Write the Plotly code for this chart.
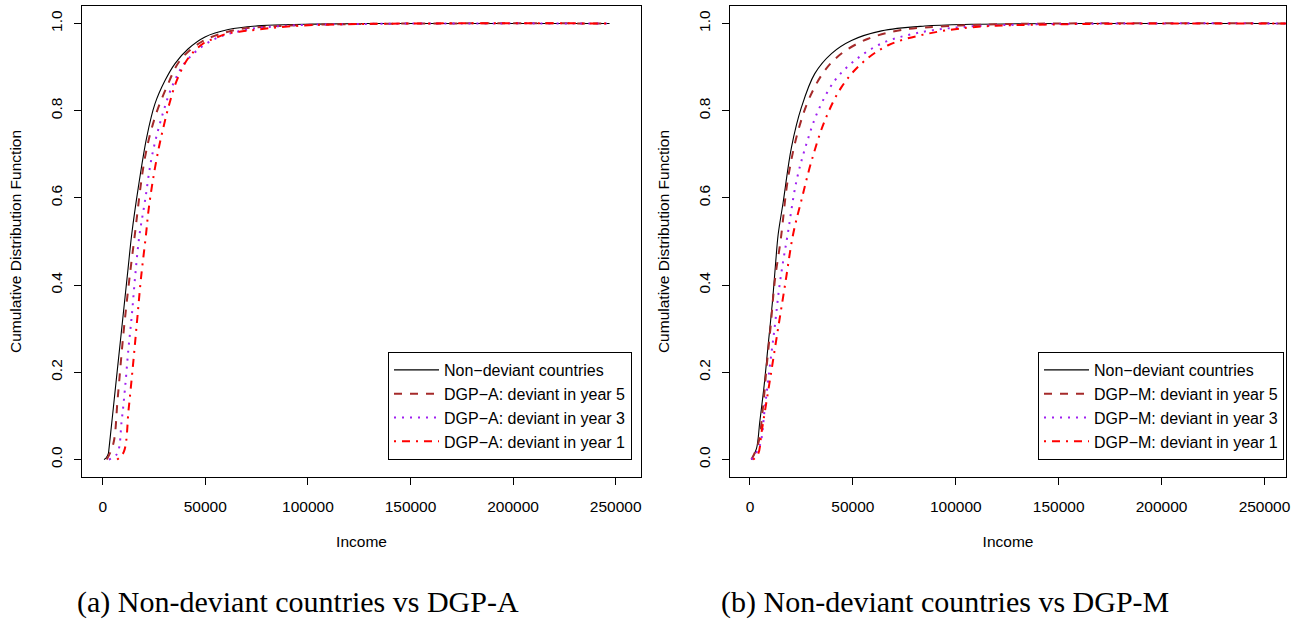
import plotly.graph_objects as go

# ---------------- data ----------------
# Panel (a): Non-deviant countries vs DGP-A
inc_nd_A = [630, 1500, 2700, 3070, 6330, 9800, 12380, 14130, 17350, 21440, 25490, 30360, 35230, 41710, 49850, 61200, 77480, 98600, 130000, 247000]
cdf_nd_A = [0.0, 0.003, 0.013, 0.025, 0.17, 0.324, 0.439, 0.516, 0.624, 0.739, 0.816, 0.869, 0.908, 0.942, 0.969, 0.986, 0.995, 0.998, 1.0, 1.0]

inc_y5_A = [1950, 5170, 7300, 10040, 12480, 15250, 20610, 25490, 31190, 37670, 48240, 64470, 85570, 130000, 247000]
cdf_y5_A = [0.0, 0.036, 0.14, 0.286, 0.393, 0.50, 0.693, 0.785, 0.854, 0.915, 0.958, 0.985, 0.994, 0.999, 1.0]

inc_y3_A = [3000, 6970, 9260, 10870, 12480, 14130, 15740, 17840, 20610, 23880, 28750, 34400, 40930, 53110, 69340, 90450, 130000, 247000]
cdf_y3_A = [0.0, 0.013, 0.09, 0.163, 0.251, 0.328, 0.416, 0.512, 0.593, 0.693, 0.785, 0.862, 0.915, 0.961, 0.985, 0.995, 0.999, 1.0]

inc_y1_A = [7000, 10230, 12670, 14770, 16710, 18660, 21100, 22300, 24400, 27400, 30000, 32500, 35500, 40000, 43500, 49000, 54000, 61000, 70000, 93000, 130000, 247000]
cdf_y1_A = [0.0, 0.017, 0.117, 0.217, 0.316, 0.416, 0.516, 0.57, 0.639, 0.716, 0.77, 0.816, 0.862, 0.908, 0.931, 0.954, 0.965, 0.977, 0.983, 0.994, 0.999, 1.0]

# Panel (b): Non-deviant countries vs DGP-M
inc_nd_M = [730, 3160, 4760, 6900, 8840, 10930, 12540, 13700, 16130, 20160, 25020, 31490, 39600, 49320, 63900, 84940, 107600, 150000, 265000]
cdf_nd_M = [0.0, 0.025, 0.086, 0.17, 0.263, 0.362, 0.455, 0.516, 0.590, 0.716, 0.808, 0.885, 0.931, 0.961, 0.983, 0.994, 0.998, 1.0, 1.0]

inc_y5_M = [730, 3980, 6410, 8020, 10110, 12050, 14960, 18560, 23420, 29060, 36350, 44460, 57430, 73610, 96300, 130000, 265000]
cdf_y5_M = [0.0, 0.036, 0.124, 0.209, 0.309, 0.409, 0.505, 0.647, 0.754, 0.831, 0.892, 0.931, 0.965, 0.985, 0.994, 0.999, 1.0]

inc_y3_M = [730, 4760, 7190, 9620, 12050, 14190, 16130, 18080, 22600, 27450, 33140, 41200, 50920, 63900, 80080, 101160, 140000, 265000]
cdf_y3_M = [0.0, 0.032, 0.117, 0.213, 0.305, 0.393, 0.455, 0.509, 0.639, 0.724, 0.80, 0.869, 0.915, 0.954, 0.977, 0.991, 0.998, 1.0]

inc_y1_M = [1500, 3980, 5650, 9290, 13170, 17060, 20950, 25020, 29880, 36350, 44460, 54180, 67140, 84940, 107600, 150000, 265000]
cdf_y1_M = [0.0, 0.013, 0.063, 0.17, 0.286, 0.401, 0.516, 0.595, 0.684, 0.777, 0.854, 0.908, 0.95, 0.975, 0.991, 0.998, 1.0]

names_A = ["Non\u2212deviant countries", "DGP\u2212A: deviant in year 5",
           "DGP\u2212A: deviant in year 3", "DGP\u2212A: deviant in year 1"]
names_M = ["Non\u2212deviant countries", "DGP\u2212M: deviant in year 5",
           "DGP\u2212M: deviant in year 3", "DGP\u2212M: deviant in year 1"]

x_ticks = [0, 50000, 100000, 150000, 200000, 250000]
y_ticks = [0.0, 0.2, 0.4, 0.6, 0.8, 1.0]
captions = ["(a) Non-deviant countries vs DGP-A", "(b) Non-deviant countries vs DGP-M"]

# ---------------- figure ----------------
W, H = 1303, 619
SANS = "Liberation Sans, Arial, sans-serif"
styles = [dict(color="black", width=1.1, dash="solid"),
          dict(color="#A52A2A", width=2, dash="8px,8px"),
          dict(color="#A020F0", width=2, dash="2px,6px"),
          dict(color="#FF0000", width=2, dash="2px,6px,8px,6px")]

fig = go.Figure()
panelA = [(inc_nd_A, cdf_nd_A), (inc_y5_A, cdf_y5_A), (inc_y3_A, cdf_y3_A), (inc_y1_A, cdf_y1_A)]
panelM = [(inc_nd_M, cdf_nd_M), (inc_y5_M, cdf_y5_M), (inc_y3_M, cdf_y3_M), (inc_y1_M, cdf_y1_M)]
for (xs, ys), nm, st in zip(panelA, names_A, styles):
    fig.add_trace(go.Scatter(x=xs, y=ys, mode="lines", name=nm, line=st,
                             xaxis="x", yaxis="y", legend="legend", line_shape="spline"))
for (xs, ys), nm, st in zip(panelM, names_M, styles):
    fig.add_trace(go.Scatter(x=xs, y=ys, mode="lines", name=nm, line=st,
                             xaxis="x2", yaxis="y2", legend="legend2", line_shape="spline"))

def px_x(p):
    return p / W

def px_y(p):
    return 1 - p / H

ydom = [px_y(477), px_y(6)]
common_x = dict(tickvals=x_ticks, tickformat="d", ticks="outside", ticklen=7, tickwidth=1,
                tickcolor="black", showline=True, linecolor="black", linewidth=1, mirror=True,
                showgrid=False, zeroline=False, automargin=False, ticklabelstandoff=8,
                tickfont=dict(family=SANS, size=15.5, color="black"),
                title=dict(text="Income", font=dict(family=SANS, size=15.5, color="black"), standoff=22))
common_y = dict(range=[-0.04, 1.04], tickvals=y_ticks, tickformat=".1f", tickangle=-90,
                ticks="outside", ticklen=7, tickwidth=1, tickcolor="black", showline=True,
                linecolor="black", linewidth=1, mirror=True, showgrid=False, zeroline=False,
                automargin=False, domain=ydom, ticklabelstandoff=6,
                tickfont=dict(family=SANS, size=15.5, color="black"),
                title=dict(text="Cumulative Distribution Function",
                           font=dict(family=SANS, size=15.5, color="black"), standoff=22))

legend_common = dict(bgcolor="white", bordercolor="black", borderwidth=1,
                     font=dict(family=SANS, size=16, color="black"),
                     xanchor="left", yanchor="top", itemwidth=45, tracegroupgap=0,
                     itemclick=False, itemdoubleclick=False)

fig.update_layout(
    width=W, height=H,
    margin=dict(l=0, r=0, t=0, b=0),
    paper_bgcolor="white", plot_bgcolor="white",
    showlegend=True,
    xaxis=dict(domain=[px_x(82), px_x(641)], range=[-10090, 262330], anchor="y", **common_x),
    yaxis=dict(anchor="x", **common_y),
    xaxis2=dict(domain=[px_x(730), px_x(1286)], range=[-9700, 260450], anchor="y2", **common_x),
    yaxis2=dict(anchor="x2", **common_y),
    legend=dict(x=px_x(388), y=px_y(352), **legend_common),
    legend2=dict(x=px_x(1038), y=px_y(352), **legend_common),
)

cap_font = dict(family="Liberation Serif, Times New Roman, serif", size=30, color="black")
fig.add_annotation(text=captions[0], x=px_x(298), y=px_y(602), xref="paper", yref="paper",
                   xanchor="center", yanchor="middle", showarrow=False, font=cap_font)
fig.add_annotation(text=captions[1], x=px_x(945), y=px_y(602), xref="paper", yref="paper",
                   xanchor="center", yanchor="middle", showarrow=False, font=cap_font)

fig.write_html("out.html")
